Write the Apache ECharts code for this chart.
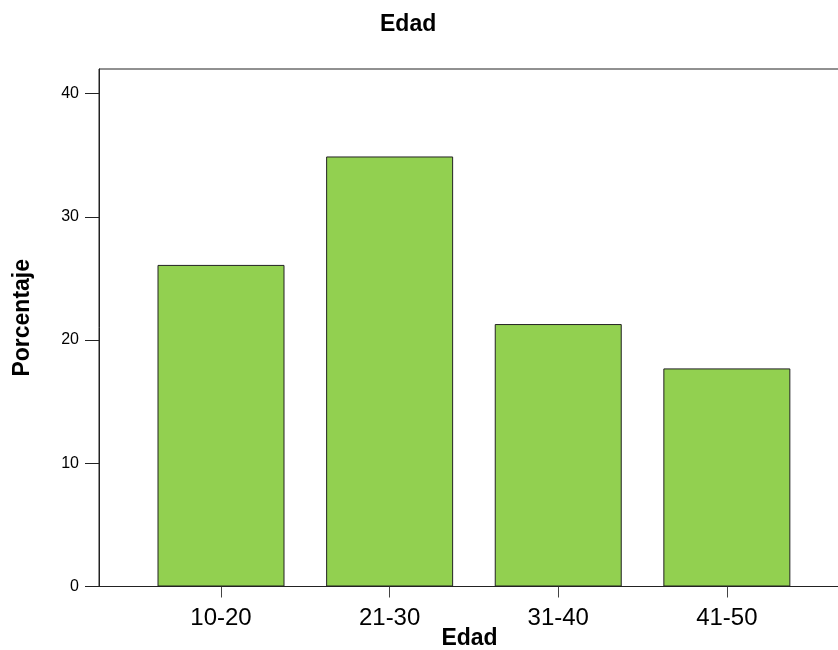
<!DOCTYPE html>
<html>
<head>
<meta charset="utf-8">
<script src="https://cdn.jsdelivr.net/npm/echarts@6/dist/echarts.min.js"></script>
<style>
html,body{margin:0;padding:0;background:#fff;}
#chart{width:838px;height:650px;}
</style>
</head>
<body>
<div id="chart"></div>
<script>
const categories = ['10-20', '21-30', '31-40', '41-50'];
const percentages = [26.1, 34.9, 21.3, 17.7];
const yTicks = [0, 10, 20, 30, 40];
const titleText = 'Edad';
const xAxisName = 'Edad';
const yAxisName = 'Porcentaje';

const positions = categories.map((c, i) => i + 1);
const font = '"Liberation Sans", Arial, sans-serif';

const chart = echarts.init(document.getElementById('chart'), null, {renderer: 'canvas'});
chart.setOption({
  animation: false,
  backgroundColor: '#ffffff',
  title: {
    text: titleText,
    left: 375,
    top: 8,
    textStyle: {fontFamily: font, fontSize: 23, fontWeight: 'bold', color: '#000'}
  },
  grid: {
    left: 99, top: 69, right: -2, bottom: 63.5,
    outerBoundsMode: 'none',
    containLabel: false,
    show: true, borderColor: '#222', borderWidth: 1, backgroundColor: 'transparent'
  },
  xAxis: {
    type: 'value',
    min: 0.2764,
    max: 4.671,
    name: xAxisName,
    nameLocation: 'middle',
    nameGap: 41,
    nameMoveOverlap: false,
    nameTextStyle: {fontFamily: font, fontSize: 23, fontWeight: 'bold', color: '#000'},
    splitLine: {show: false},
    axisLine: {show: true, onZero: false, lineStyle: {color: '#222', width: 1}},
    axisTick: {show: true, length: 11, customValues: positions, lineStyle: {color: '#444'}},
    axisLabel: {
      customValues: positions,
      margin: 20,
      fontFamily: font, fontSize: 24, color: '#000',
      formatter: v => categories[Math.round(v) - 1] || ''
    }
  },
  yAxis: {
    type: 'value',
    min: 0,
    max: 42,
    name: yAxisName,
    nameLocation: 'middle',
    nameRotate: 90,
    nameGap: 65,
    nameMoveOverlap: false,
    nameTextStyle: {fontFamily: font, fontSize: 23, fontWeight: 'bold', color: '#000', padding: [0, 0, 0, 20]},
    splitLine: {show: false},
    axisLine: {show: true, lineStyle: {color: '#222', width: 1}},
    axisTick: {show: true, length: 14, customValues: yTicks, lineStyle: {color: '#222'}},
    axisLabel: {
      customValues: yTicks,
      margin: 20,
      fontFamily: font, fontSize: 16, color: '#000'
    }
  },
  series: [{
    type: 'bar',
    barWidth: 127,
    data: positions.map((p, i) => [p, percentages[i]]),
    itemStyle: {color: '#92D050', borderColor: '#222', borderWidth: 1}
  }]
});
</script>
</body>
</html>
